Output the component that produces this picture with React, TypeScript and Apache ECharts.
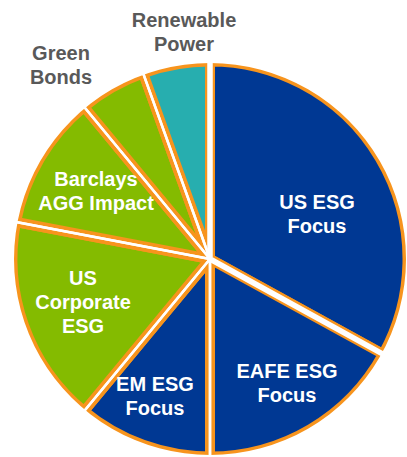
import React, { useEffect, useRef } from "react";
import * as echarts from "echarts";

// ---- data ----
const CATEGORIES = [
  "US ESG Focus",
  "EAFE ESG Focus",
  "EM ESG Focus",
  "US Corporate ESG",
  "Barclays AGG Impact",
  "Green Bonds",
  "Renewable Power",
];
const LABEL_TEXT = [
  "US ESG\nFocus",
  "EAFE ESG\nFocus",
  "EM ESG\nFocus",
  "US\nCorporate\nESG",
  "Barclays\nAGG Impact",
  "Green\nBonds",
  "Renewable\nPower",
];
const VALUES = [33, 17, 11, 17, 11, 5.5, 5.5];

// ---- styles (kept apart from the data) ----
const BLUE = "#003893";
const GREEN = "#84bb00";
const TEAL = "#27aeaf";
const ORANGE = "#f7941d";
const SLICE_COLORS = [BLUE, BLUE, BLUE, GREEN, GREEN, GREEN, TEAL];
const LABEL_COLORS = ["#ffffff", "#ffffff", "#ffffff", "#ffffff", "#ffffff", "#595959", "#595959"];
const GAP_WIDTHS = [5.5, 2.5, 2.5, 2.5, 2.5, 2.5, 2.5];
const LABEL_POS = [
  { x: 317, y: 214 },
  { x: 287, y: 383 },
  { x: 155, y: 396 },
  { x: 83, y: 302 },
  { x: 96, y: 191 },
  { x: 61, y: 65 },
  { x: 184, y: 32 },
];

const CENTER = [210, 259];
const R = 197.5;

export default function App() {
  const ref = useRef<HTMLDivElement>(null);

  useEffect(() => {
    if (!ref.current) return;
    const chart = echarts.init(ref.current, null, { renderer: "svg" });

    const sliceData = CATEGORIES.map((name, i) => ({
      name,
      value: VALUES[i],
      itemStyle: { color: SLICE_COLORS[i] },
    }));
    const lineData = CATEGORIES.map((name, i) => ({
      name,
      value: VALUES[i],
      itemStyle: { borderWidth: GAP_WIDTHS[i] },
      label: { color: LABEL_COLORS[i] },
    }));

    chart.setOption({
      animation: false,
      backgroundColor: "#ffffff",
      series: [
        {
          name: "Allocation",
          type: "pie",
          center: CENTER,
          radius: R,
          startAngle: 90,
          clockwise: true,
          silent: true,
          emphasis: { disabled: true },
          itemStyle: {
            borderColor: ORANGE,
            borderWidth: 10,
            borderJoin: "round",
          },
          label: { show: false },
          labelLine: { show: false },
          data: sliceData,
          z: 2,
        },
        {
          name: "rim",
          type: "pie",
          center: CENTER,
          radius: [R - 1.5, R + 12],
          silent: true,
          emphasis: { disabled: true },
          itemStyle: { color: "#ffffff", borderWidth: 0 },
          label: { show: false },
          labelLine: { show: false },
          data: [{ name: "rim", value: 1 }],
          z: 3,
        },
        {
          name: "Allocation labels",
          type: "pie",
          center: CENTER,
          radius: R + 4,
          startAngle: 90,
          clockwise: true,
          avoidLabelOverlap: false,
          silent: true,
          emphasis: { disabled: true },
          itemStyle: {
            color: "rgba(0,0,0,0)",
            borderColor: "#ffffff",
            borderWidth: 2.5,
            borderJoin: "round",
          },
          label: {
            show: true,
            position: "inside",
            formatter: (p: any) => LABEL_TEXT[p.dataIndex],
            fontFamily: "Arial, 'Liberation Sans', sans-serif",
            fontWeight: "bold",
            fontSize: 20,
            lineHeight: 24,
            align: "center",
          },
          labelLine: { show: false },
          labelLayout: (p: any) => ({
            x: LABEL_POS[p.dataIndex].x,
            y: LABEL_POS[p.dataIndex].y,
            align: "center",
            verticalAlign: "middle",
          }),
          data: lineData,
          z: 4,
        },
      ],
    });

    return () => chart.dispose();
  }, []);

  return (
    <div
      ref={ref}
      style={{ position: "fixed", left: 0, top: 0, width: 407, height: 457, background: "#fff" }}
    />
  );
}
